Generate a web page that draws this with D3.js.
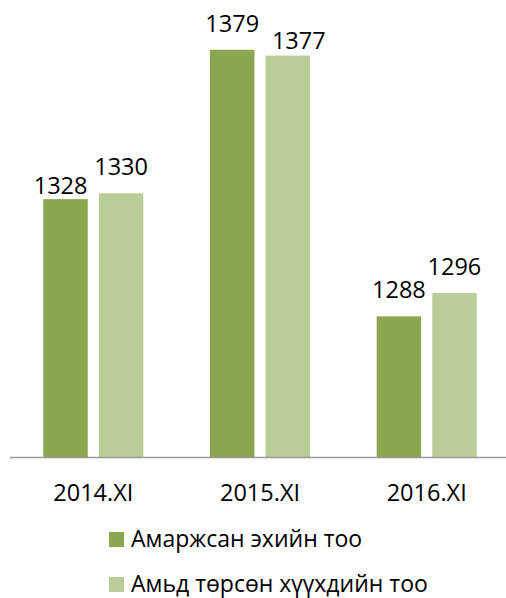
<!DOCTYPE html>
<html>
<head>
<meta charset="utf-8">
<script src="https://cdn.jsdelivr.net/npm/d3@7"></script>
<style>
  body { margin: 0; background: #fff; }
  svg { display: block; font-family: 'Open Sans', 'Noto Sans', sans-serif; }
</style>
</head>
<body>
<div id="root"></div>
<script>
const categories = ['2014.XI', '2015.XI', '2016.XI'];
const seriesNames = ['Амаржсан эхийн тоо', 'Амьд төрсөн хүүхдийн тоо'];
const mothers = [1328, 1379, 1288];
const births = [1330, 1377, 1296];

const colors = ['#8aa64f', '#b9ce96'];

// label nudges (Excel moved a couple of labels to avoid overlap)
const labelNudge = {
  '0-0': [-5, 13],
  '1-1': [11, 11],
};

const width = 506;
const height = 598;
const baseline = 457;

const svg = d3.select('#root')
  .append('svg')
  .attr('width', width)
  .attr('height', height);

const x0 = d3.scaleBand()
  .domain(categories)
  .range([10, 510])
  .paddingInner(0.4)
  .paddingOuter(0.2);

const x1 = d3.scaleBand()
  .domain([0, 1])
  .range([0, x0.bandwidth()])
  .paddingInner(0.2);

const y = d3.scaleLinear()
  .domain([1240, 1400])
  .range([baseline, baseline - 160 * 2.93]);

const rows = categories.map((c, i) => ({ cat: c, i, values: [mothers[i], births[i]] }));

const groups = svg.append('g')
  .selectAll('g')
  .data(rows)
  .join('g')
  .attr('transform', d => `translate(${x0(d.cat)},0)`);

groups.selectAll('rect')
  .data(d => d.values.map((v, s) => ({ v, s, i: d.i })))
  .join('rect')
  .attr('x', d => x1(d.s))
  .attr('y', d => y(d.v))
  .attr('width', x1.bandwidth())
  .attr('height', d => baseline - y(d.v))
  .attr('fill', d => colors[d.s]);

groups.selectAll('text')
  .data(d => d.values.map((v, s) => ({ v, s, i: d.i })))
  .join('text')
  .attr('x', d => x1(d.s) + x1.bandwidth() / 2 + (labelNudge[`${d.i}-${d.s}`] || [0, 0])[0])
  .attr('y', d => y(d.v) - 18 + (labelNudge[`${d.i}-${d.s}`] || [0, 0])[1])
  .attr('text-anchor', 'middle')
  .attr('font-size', 23.5)
  .attr('fill', '#000')
  .text(d => d.v);

// axis
const xAxis = svg.append('g')
  .attr('transform', `translate(0,${baseline})`)
  .call(d3.axisBottom(x0).tickSize(0).tickPadding(27));
xAxis.select('.domain')
  .attr('d', `M10,0.5H506`)
  .attr('stroke', '#999')
  .attr('stroke-width', 1.5);
xAxis.selectAll('text')
  .attr('font-size', 23.5)
  .attr('font-family', "'Open Sans', 'Noto Sans', sans-serif")
  .attr('fill', '#000');

// legend
const legend = svg.append('g')
  .selectAll('g')
  .data(seriesNames)
  .join('g')
  .attr('transform', (d, i) => `translate(109,${532 + i * 45})`);
legend.append('rect')
  .attr('width', 15)
  .attr('height', 15)
  .attr('fill', (d, i) => colors[i]);
legend.append('text')
  .attr('x', 22)
  .attr('y', 15)
  .attr('font-size', 23)
  .attr('fill', '#000')
  .text(d => d);
</script>
</body>
</html>
